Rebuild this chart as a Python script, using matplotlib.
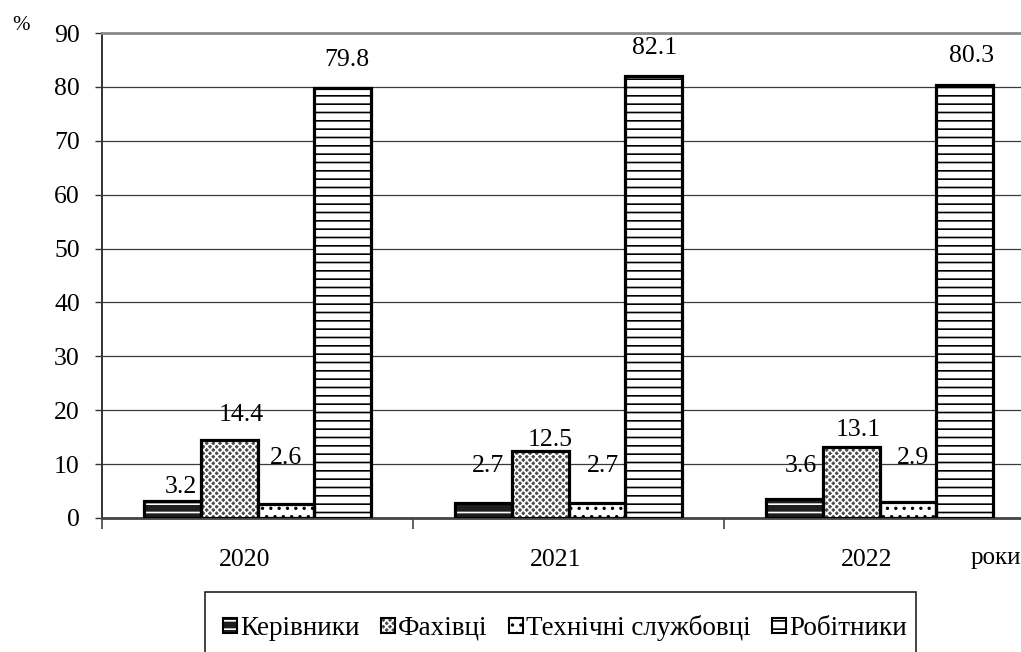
import matplotlib
matplotlib.use("Agg")
import matplotlib.pyplot as plt
import numpy as np
from matplotlib.patches import Patch, Rectangle
from matplotlib.transforms import ScaledTranslation

plt.rcParams['font.family'] = ['Liberation Serif', 'DejaVu Serif']
plt.rcParams['hatch.linewidth'] = 1.2

years = ['2020', '2021', '2022']
series = ['Керівники', 'Фахівці', 'Технічні службовці', 'Робітники']
kerivnyky = [3.2, 2.7, 3.6]
fakhivtsi = [14.4, 12.5, 13.1]
tekhnichni = [2.6, 2.7, 2.9]
robitnyky = [79.8, 82.1, 80.3]
values = [kerivnyky, fakhivtsi, tekhnichni, robitnyky]
y_ticks = list(range(0, 91, 10))

# fill colour, hatch colour, hatch pattern for each group
styles = [
    ('#1e1e1e', 'white', '--'),
    ('#4c4c4c', 'white', 'xxxxx'),
    ('white', 'black', '..'),
    ('white', 'black', '--'),
]
# label offsets from bar top (pixels)
label_dx = [[9, 5, 7], [12, 10, 7], [0, 6, 5], [4, 1, 7]]
label_dy = [[14, 37, 33], [25, 11, 17], [46, 37, 44], [28, 28, 29]]

FS = 18.5
W, H = 1021, 652
fig = plt.figure(figsize=(W / 100, H / 100), dpi=100)
ax = fig.add_axes([102 / W, (H - 518) / H, 933 / W, 485 / H])

x = np.arange(len(years))
bw = 0.183
offsets = (np.arange(len(series)) - 1.5) * bw

handles = []
for i, (vals, (fc, hc, hatch)) in enumerate(zip(values, styles)):
    ax.bar(x + offsets[i], vals, bw, color=fc, edgecolor=hc, hatch=hatch,
           linewidth=0, zorder=3)
    ax.bar(x + offsets[i], vals, bw, fill=False, edgecolor='black',
           linewidth=2.3, zorder=4)
    for j, v in enumerate(vals):
        ax.annotate(f'{v:.1f}', (x[j] + offsets[i], v),
                    xytext=(label_dx[i][j], label_dy[i][j]),
                    textcoords='offset pixels', ha='center', va='center',
                    fontsize=FS, zorder=5)
    handles.append((Patch(facecolor=fc, edgecolor=hc, hatch=hatch, linewidth=0),
                    Patch(fill=False, edgecolor='black', linewidth=1.5)))

ax.set_xlim(-0.5, 2.5)
ax.set_ylim(0, 90)
ax.set_yticks(y_ticks)
ax.tick_params(axis='y', labelsize=FS, length=5, width=1, pad=11,
               color='#333333')
ax.set_xticks(x)
ax.set_xticklabels(years)
ax.set_xticks([-0.5, 0.5, 1.5, 2.5], minor=True)
ax.tick_params(axis='x', which='major', length=0, labelsize=FS, pad=22)
ax.tick_params(axis='x', which='minor', length=8, width=1.2, color='#444444')
shift = ScaledTranslation(-13 / 100, 0, fig.dpi_scale_trans)
for lbl in ax.get_xticklabels():
    lbl.set_transform(lbl.get_transform() + shift)

ax.grid(axis='y', color='#3a3a3a', linewidth=0.9)
ax.set_axisbelow(True)
ax.spines['right'].set_visible(False)
ax.spines['top'].set_color('#8a8a8a')
ax.spines['top'].set_linewidth(2)
ax.spines['left'].set_color('#333333')
ax.spines['left'].set_linewidth(1.4)
ax.spines['bottom'].set_color('#444444')
ax.spines['bottom'].set_linewidth(2)

fig.text(12 / W, 1 - 25 / H, '%', fontsize=15, ha='left', va='center')
fig.text(1021 / W, 1 - 558 / H, 'роки', fontsize=18, ha='right', va='center')

# legend frame runs past the lower edge of the figure
fig.patches.append(Rectangle((205 / W, -0.05), (916 - 205) / W, 0.05 + (H - 592) / H,
                             transform=fig.transFigure, fill=False,
                             edgecolor='#222222', linewidth=1.2))
fig.legend(handles, series, loc='center', bbox_to_anchor=(565 / W, 1 - 628 / H),
           ncol=4, frameon=False, prop={'family': 'Liberation Serif', 'size': 19.5},
           handlelength=0.5, handleheight=0.5, handletextpad=0.12,
           columnspacing=0.8, borderaxespad=0)

fig.savefig('out.png', dpi=100)
